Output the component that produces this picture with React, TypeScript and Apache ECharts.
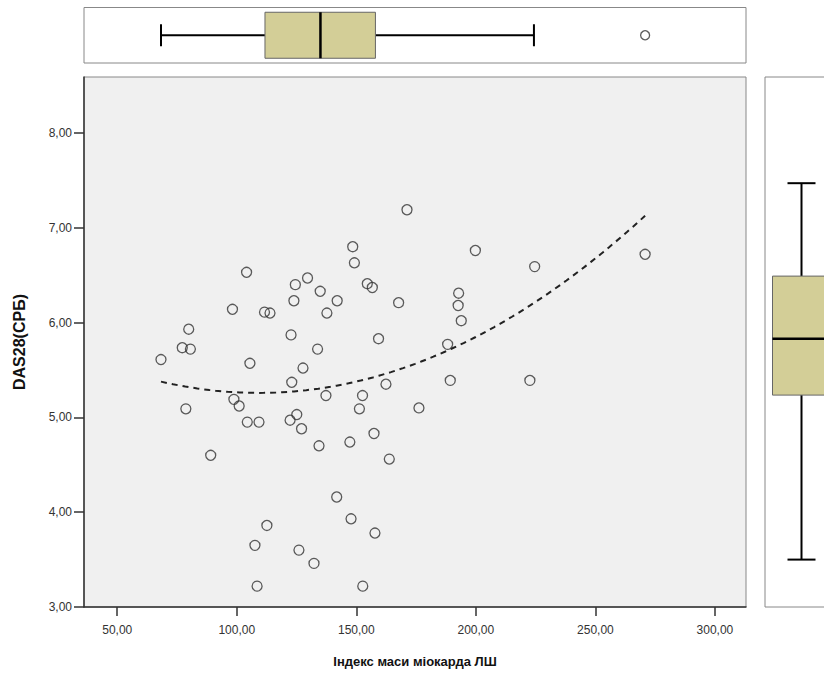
import React, { useEffect, useRef } from "react";
import * as echarts from "echarts";

// Індекс маси міокарда ЛШ (x) and DAS28(СРБ) (y), one entry per patient
const lvmiValues = [
  68.3, 77.2, 80.6, 79.9, 78.7, 89.1, 98.8, 101.0, 104.4, 109.3,
  98.2, 104.1, 111.6, 113.9, 105.5, 122.7, 124.5, 129.6, 123.9, 134.9,
  137.7, 133.8, 127.7, 123.0, 137.3, 125.1, 122.3, 127.1, 142.0, 148.5,
  149.2, 154.6, 156.7, 159.3, 152.6, 151.3, 134.4, 147.3, 157.4, 141.8,
  147.8, 157.8, 112.6, 107.6, 126.0, 132.3, 108.5, 152.7, 171.2, 199.8,
  224.6, 270.8, 167.7, 192.8, 192.6, 193.9, 188.2, 162.4, 189.3, 222.6,
  176.2, 163.8,
];
const das28Values = [
  5.61, 5.735, 5.72, 5.93, 5.09, 4.6, 5.19, 5.12, 4.95, 4.95,
  6.14, 6.53, 6.11, 6.1, 5.57, 5.87, 6.4, 6.47, 6.23, 6.33,
  6.1, 5.72, 5.52, 5.37, 5.23, 5.03, 4.97, 4.88, 6.23, 6.8,
  6.63, 6.41, 6.37, 5.83, 5.23, 5.09, 4.7, 4.74, 4.83, 4.16,
  3.93, 3.78, 3.86, 3.65, 3.6, 3.46, 3.22, 3.22, 7.19, 6.76,
  6.59, 6.72, 6.21, 6.31, 6.18, 6.02, 5.77, 5.35, 5.39, 5.39,
  5.1, 4.56,
];

// box plot statistics: [min whisker, Q1, median, Q3, max whisker]
const lvmiBox = [68.3, 111.8, 135.0, 158.0, 224.3];
const lvmiOutliers = [270.8];
const das28Box = [3.5, 5.235, 5.83, 6.49, 7.47];

const xTicks = [50, 100, 150, 200, 250, 300];
const yTicks = [3, 4, 5, 6, 7, 8];

const xTitle = "Індекс маси міокарда ЛШ";
const yTitle = "DAS28(СРБ)";

const X_MIN = 36.1;
const X_MAX = 313;
const Y_MIN = 3;
const Y_MAX = 8.59;

const FONT = "'Liberation Sans', Arial, sans-serif";
const BOX_FILL = "#D3CE97";

function quadFit(xs: number[], ys: number[]) {
  let n = xs.length, sx = 0, sx2 = 0, sx3 = 0, sx4 = 0, sy = 0, sxy = 0, sx2y = 0;
  for (let i = 0; i < n; i++) {
    const x = xs[i], y = ys[i];
    sx += x; sx2 += x * x; sx3 += x * x * x; sx4 += x * x * x * x;
    sy += y; sxy += x * y; sx2y += x * x * y;
  }
  const det = (m: number[][]) =>
    m[0][0] * (m[1][1] * m[2][2] - m[1][2] * m[2][1]) -
    m[0][1] * (m[1][0] * m[2][2] - m[1][2] * m[2][0]) +
    m[0][2] * (m[1][0] * m[2][1] - m[1][1] * m[2][0]);
  const A = [
    [n, sx, sx2],
    [sx, sx2, sx3],
    [sx2, sx3, sx4],
  ];
  const B = [sy, sxy, sx2y];
  const D = det(A);
  const res: number[] = [];
  for (let k = 0; k < 3; k++) {
    const M = A.map((row, r) => row.map((v, c) => (c === k ? B[r] : v)));
    res.push(det(M) / D);
  }
  return res; // a, b, c
}

const fmt = (v: number) => v.toFixed(2).replace(".", ",");

export default function App() {
  const ref = useRef<HTMLDivElement>(null);

  useEffect(() => {
    if (!ref.current) return;
    const chart = echarts.init(ref.current, null, { renderer: "svg" });

    const [a, b, c] = quadFit(lvmiValues, das28Values);
    const xLo = Math.min(...lvmiValues);
    const xHi = Math.max(...lvmiValues);
    const fitData: number[][] = [];
    const steps = 80;
    for (let i = 0; i <= steps; i++) {
      const x = xLo + ((xHi - xLo) * i) / steps;
      fitData.push([x, a + b * x + c * x * x]);
    }

    const line = (x1: number, y1: number, x2: number, y2: number, w: number) => ({
      type: "line",
      shape: { x1, y1, x2, y2 },
      style: { stroke: "#000", lineWidth: w },
    });

    const renderHBox = (_p: any, api: any) => {
      const v = [0, 1, 2, 3, 4].map((i) => api.value(i));
      const pts = v.map((x) => api.coord([x, 0.5]));
      const yc = pts[0][1];
      const boxHalf = 23;
      const capHalf = 11;
      return {
        type: "group",
        children: [
          line(pts[0][0], yc, pts[1][0], yc, 2),
          line(pts[3][0], yc, pts[4][0], yc, 2),
          line(pts[0][0], yc - capHalf, pts[0][0], yc + capHalf, 2),
          line(pts[4][0], yc - capHalf, pts[4][0], yc + capHalf, 2),
          {
            type: "rect",
            shape: { x: pts[1][0], y: yc - boxHalf, width: pts[3][0] - pts[1][0], height: boxHalf * 2 },
            style: { fill: BOX_FILL, stroke: "#666", lineWidth: 1 },
          },
          line(pts[2][0], yc - boxHalf, pts[2][0], yc + boxHalf, 2.5),
        ],
      };
    };

    const renderVBox = (_p: any, api: any) => {
      const v = [0, 1, 2, 3, 4].map((i) => api.value(i));
      const pts = v.map((y) => api.coord([0.5, y]));
      const xc = pts[0][0];
      const boxHalf = 29;
      const capHalf = 14;
      return {
        type: "group",
        children: [
          line(xc, pts[0][1], xc, pts[1][1], 2),
          line(xc, pts[3][1], xc, pts[4][1], 2),
          line(xc - capHalf, pts[0][1], xc + capHalf, pts[0][1], 2),
          line(xc - capHalf, pts[4][1], xc + capHalf, pts[4][1], 2),
          {
            type: "rect",
            shape: { x: xc - boxHalf, y: pts[3][1], width: boxHalf * 2, height: pts[1][1] - pts[3][1] },
            style: { fill: BOX_FILL, stroke: "#666", lineWidth: 1 },
          },
          line(xc - boxHalf, pts[2][1], xc + boxHalf, pts[2][1], 2.5),
        ],
      };
    };

    const labelStyle = { color: "#333", fontSize: 12, fontFamily: FONT };

    chart.setOption({
      animation: false,
      backgroundColor: "#fff",
      textStyle: { fontFamily: FONT },
      grid: [
        { left: 84, top: 77, width: 662, height: 530, show: true, backgroundColor: "#F0F0F0", borderColor: "#888", borderWidth: 1 },
        { left: 84, top: 7.5, width: 662, height: 55.5, show: true, backgroundColor: "#fff", borderColor: "#888", borderWidth: 1 },
        { left: 765, top: 77, width: 73, height: 530, show: true, backgroundColor: "#fff", borderColor: "#888", borderWidth: 1 },
      ],
      xAxis: [
        {
          gridIndex: 0,
          type: "value",
          min: X_MIN,
          max: X_MAX,
          name: xTitle,
          nameLocation: "middle",
          nameGap: 48,
          nameTextStyle: { color: "#111", fontSize: 13, fontWeight: "bold", fontFamily: FONT },
          axisLine: { show: true, onZero: false, lineStyle: { color: "#333", width: 1.5 } },
          axisTick: { show: true, length: 9, customValues: xTicks, lineStyle: { color: "#333", width: 1.5 } },
          axisLabel: { ...labelStyle, margin: 17, customValues: xTicks, formatter: (v: number) => fmt(v) },
          splitLine: { show: false },
        },
        { gridIndex: 1, type: "value", min: X_MIN, max: X_MAX, show: false },
        { gridIndex: 2, type: "value", min: 0, max: 1, show: false },
      ],
      yAxis: [
        {
          gridIndex: 0,
          type: "value",
          min: Y_MIN,
          max: Y_MAX,
          name: yTitle,
          nameLocation: "middle",
          nameGap: 57,
          nameRotate: 90,
          nameTextStyle: { color: "#111", fontSize: 16, fontWeight: "bold", fontFamily: FONT },
          axisLine: { show: true, onZero: false, lineStyle: { color: "#333", width: 1.5 } },
          axisTick: { show: true, length: 10, customValues: yTicks, lineStyle: { color: "#333", width: 1.5 } },
          axisLabel: { ...labelStyle, margin: 12, customValues: yTicks, formatter: (v: number) => fmt(v) },
          splitLine: { show: false },
        },
        { gridIndex: 1, type: "value", min: 0, max: 1, show: false },
        { gridIndex: 2, type: "value", min: Y_MIN, max: Y_MAX, show: false },
      ],
      series: [
        {
          type: "line",
          xAxisIndex: 0,
          yAxisIndex: 0,
          data: fitData,
          symbol: "none",
          smooth: false,
          lineStyle: { color: "#222", width: 2, type: [6, 5] },
          z: 2,
        },
        {
          type: "scatter",
          xAxisIndex: 0,
          yAxisIndex: 0,
          data: lvmiValues.map((x, i) => [x, das28Values[i]]),
          symbol: "circle",
          symbolSize: 10,
          itemStyle: { color: "rgba(0,0,0,0)", borderColor: "#333", borderWidth: 1.3 },
          z: 3,
        },
        {
          type: "custom",
          xAxisIndex: 1,
          yAxisIndex: 1,
          renderItem: renderHBox,
          data: [lvmiBox],
        },
        {
          type: "scatter",
          xAxisIndex: 1,
          yAxisIndex: 1,
          data: lvmiOutliers.map((x) => [x, 0.5]),
          symbol: "circle",
          symbolSize: 9,
          itemStyle: { color: "rgba(0,0,0,0)", borderColor: "#333", borderWidth: 1.3 },
        },
        {
          type: "custom",
          xAxisIndex: 2,
          yAxisIndex: 2,
          renderItem: renderVBox,
          data: [das28Box],
        },
      ],
    });

    return () => chart.dispose();
  }, []);

  return (
    <div
      ref={ref}
      style={{ position: "fixed", left: 0, top: 0, width: 845, height: 673 }}
    />
  );
}
